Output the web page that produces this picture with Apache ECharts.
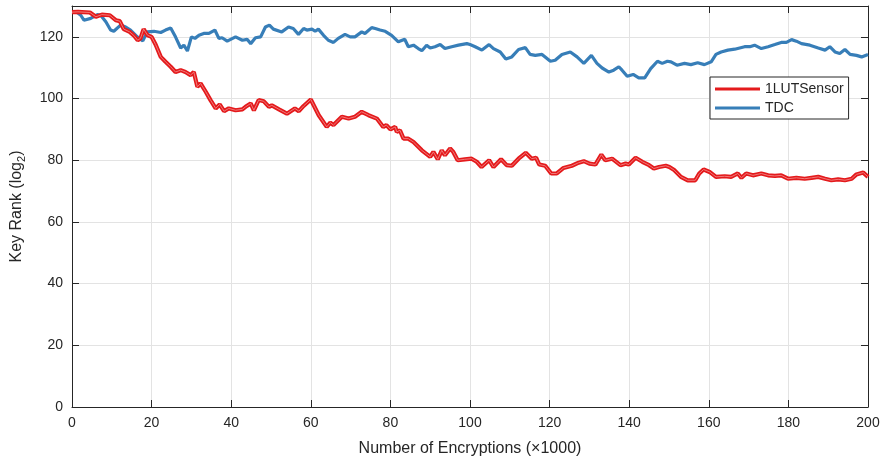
<!DOCTYPE html>
<html>
<head>
<meta charset="utf-8">
<script src="https://cdn.jsdelivr.net/npm/echarts@6/dist/echarts.min.js"></script>
<style>html,body{margin:0;padding:0;background:#fff;}#c{width:883px;height:459px;}</style>
</head>
<body>
<div id="c"></div>
<script>
var seriesNames = ['1LUTSensor', 'TDC'];
var xTicks = [0, 20, 40, 60, 80, 100, 120, 140, 160, 180, 200];
var yTicks = [0, 20, 40, 60, 80, 100, 120];

var redX = [0,1.5,4.5,6,7.5,9.5,11,12,13,14.5,15.5,16.5,17.2,18,19,20,21,22.3,23.5,24.8,26,27.3,28.5,29.8,30.6,31.5,32.3,33.6,34.8,36.1,37.1,38.2,39.4,41.1,42.8,43.6,44.9,45.7,46.9,48.2,49.5,50.2,52,54,56,57,58.2,60,62,64,64.9,65.7,67.8,69.5,71.1,72.8,74.5,76.6,78.2,79,80,81.2,81.6,82.4,83.3,84.5,85.8,87.9,90,90.8,91.9,92.9,93.7,95,95.8,96.9,98.7,100.4,101.7,102.9,104.8,105.9,107.8,109.2,110.5,112.2,114,115.5,116.6,117.4,118.9,120.4,121.8,123.5,125.6,127.3,128.6,130,131.5,133,134,135.7,137.8,139.1,139.9,141.6,143.3,145,146.2,147.5,149.2,150.1,151.3,153,154.7,156.6,157.6,158.7,160.2,161.8,164,165.6,167.3,168.2,169.4,171.1,173.2,174.9,176.6,178.2,179.9,182,184.1,185.8,187.5,189.2,190.8,192.5,194.2,195.9,197.1,198.8,200];
var redY = [128,128.1,127.9,126.5,127.2,127,125.4,125.1,122.5,121.6,120.5,118.9,119.5,122.5,120.5,120,117.5,113.5,111.9,110.3,108.6,109.2,108.6,107.6,108.6,103.8,104.9,102.2,99.5,96.8,98.1,95.9,96.8,96.2,96.5,97.3,98.4,96.2,99.5,99.1,97.3,97.8,96.5,95.1,96.8,95.9,97.6,99.7,94.6,90.8,92.2,91.4,94.1,93.5,94.1,95.7,94.6,93.5,90.8,91.4,90,90.8,89.2,89.7,87,87,85.9,83.2,81.1,82.7,80.3,83.2,81.6,83.8,82.7,80,80.3,80.5,79.5,77.8,80,77.8,80.3,78.4,78.2,80.5,82.4,80.5,80.8,78.6,78.2,75.7,75.7,77.5,78.2,79.2,79.7,78.9,78.6,81.8,80,80.5,78.4,78.9,78.6,80.8,79.5,78.4,77.3,77.8,78.2,77.8,76.8,74.6,73.5,73.5,75.7,77,76.2,74.6,74.8,74.6,75.7,74.3,75.7,75.1,75.7,75.1,74.9,75.1,74,74.3,74,74.3,74.6,74,73.5,73.8,73.5,74,75.4,76,74.6];

var blueX = [0,1.3,2.2,3,4.7,6.4,7.2,8.5,9.7,10.5,12.2,13.5,14.7,16.4,17.8,18.9,20.6,22.3,23.5,24.8,26,27.3,28.1,29,30,30.9,31.9,33.1,34.4,35.9,36.9,37.7,39,41.1,42.8,44,44.9,46.1,47.4,48.6,49.6,50.6,52.7,54.4,55.6,56.9,58.2,59,60.3,61.1,61.9,63.2,64.4,65.7,66.9,68.6,69.9,71.1,72.8,73.6,75.3,76.2,77.4,78.7,80.3,82,83.6,84.5,85.8,87,87.9,89.1,90,91.2,92.5,93.7,95.4,97.1,99.2,100,101.3,103,104.8,105.9,107.6,109,110.5,112.2,113.9,115.1,116.4,118.1,120.2,121.4,123.1,125.2,126.9,128.6,130.5,131.9,133.2,134.9,136.1,137.4,138.2,139.5,141,142.4,143.9,145.4,147.1,148.3,149.6,150.5,152,153.9,155.5,157.2,158.9,160.6,161.8,163.1,164.8,166.5,169,170.3,171.5,173.2,174.9,176.6,178.2,179.5,180.8,182,183.3,185.4,187.5,189.2,190.4,191.7,192.9,194.2,195.5,197.1,198.4,200];
var blueY = [128,127.9,127,125.4,126,127.2,127,124.9,122.2,121.8,123.8,123.2,122.2,120,118.7,121.6,121.8,121.4,122.2,122.9,120,116.4,117.3,115.4,120,119.5,120.5,121.1,121.1,122.2,119.5,119.7,118.6,120,118.9,119.2,117.8,119.7,120,123.2,123.8,122.5,121.6,123.2,122.7,120.8,122.7,122.2,122.5,121.8,122.5,120.5,118.9,118.2,119.5,120.8,120,120,121.6,121.1,123,122.7,122.2,121.8,120.5,118.4,119.2,116.8,117.3,116.2,115.5,117.3,116.4,116.8,117.5,116.2,116.8,117.3,117.8,117.5,116.8,115.7,117.5,116.2,115.1,112.8,113.5,115.9,116.5,114.3,114,114.3,112.1,112.4,114.3,115.1,113.5,111.4,114,111.4,109.9,108.6,109.2,110.3,109.2,107.2,107.8,106.7,106.7,109.7,112.1,111.4,112.1,111.9,110.8,111.4,111,111.6,111,111.9,114.3,115.1,115.7,116,116.8,116.8,117.3,116.2,116.8,117.5,118.2,118.2,119.1,118.6,117.8,117.3,116.4,115.7,116.8,115.1,114.6,115.9,114.3,114,113.5,114.3];

function pairs(xs, ys) { return xs.map(function (x, i) { return [x, ys[i]]; }); }

var txt = '#262626';
var font = 'Liberation Sans, Arial, Helvetica, sans-serif';
var chart = echarts.init(document.getElementById('c'), null, {renderer: 'canvas'});

function xAx(pos, show) {
  return {
    type: 'value', position: pos, min: xTicks[0], max: xTicks[xTicks.length - 1], interval: 20,
    axisLine: {show: true, onZero: false, lineStyle: {color: txt, width: 1}},
    axisTick: {show: true, inside: true, length: 7, lineStyle: {color: txt}},
    axisLabel: {show: show, color: txt, fontSize: 14, fontFamily: font, margin: 9,
      formatter: function (v) { return xTicks.indexOf(v) >= 0 ? String(v) : ''; }},
    splitLine: {show: show, lineStyle: {color: '#e3e3e3', width: 1}}
  };
}
function yAx(pos, show) {
  return {
    type: 'value', position: pos, min: 0, max: 130, interval: 20,
    axisLine: {show: true, onZero: false, lineStyle: {color: txt, width: 1}},
    axisTick: {show: true, inside: true, length: 7, lineStyle: {color: txt}},
    axisLabel: {show: show, color: txt, fontSize: 14, fontFamily: font, margin: 9, showMaxLabel: false,
      formatter: function (v) { return yTicks.indexOf(v) >= 0 ? String(v) : ''; }},
    splitLine: {show: show, lineStyle: {color: '#e3e3e3', width: 1}}
  };
}

var xa = xAx('bottom', true);
xa.name = 'Number of Encryptions (\u00d71000)';
xa.nameLocation = 'middle';
xa.nameGap = 34;
xa.nameTextStyle = {color: txt, fontSize: 16, fontFamily: font};
var xb = xAx('top', false);

var ya = yAx('left', true);
ya.name = '{a|Key Rank (log}{s|2}{a|)}';
ya.nameLocation = 'middle';
ya.nameGap = 45;
ya.nameRotate = 90;
ya.nameTextStyle = {color: txt, fontFamily: font,
  rich: {a: {fontSize: 16, color: txt, fontFamily: font, lineHeight: 20},
         s: {fontSize: 11, color: txt, fontFamily: font, verticalAlign: 'bottom', lineHeight: 14}}};
var yb = yAx('right', false);

chart.setOption({
  animation: false,
  backgroundColor: '#fff',
  grid: {left: 72, right: 15, top: 6, bottom: 52, containLabel: false, outerBoundsMode: 'none'},
  xAxis: [xa, xb],
  yAxis: [ya, yb],
  legend: {
    data: seriesNames, orient: 'vertical', left: 710, top: 77,
    backgroundColor: '#fff', borderColor: txt, borderWidth: 1, borderRadius: 0,
    padding: [5, 5, 4, 5], itemGap: 5, itemWidth: 45, itemHeight: 3, icon: 'rect',
    textStyle: {color: txt, fontSize: 14, fontFamily: font, padding: [0, 0, 0, 0]}
  },
  series: [
    {name: seriesNames[0], type: 'line', xAxisIndex: 0, yAxisIndex: 0, data: pairs(redX, redY),
     showSymbol: false, symbol: 'none', color: '#e41a1c', lineStyle: {color: '#e41a1c', width: 4.2}, z: 3},
    {name: seriesNames[1], type: 'line', xAxisIndex: 0, yAxisIndex: 0, data: pairs(blueX, blueY),
     showSymbol: false, symbol: 'none', color: '#377eb8', lineStyle: {color: '#377eb8', width: 3.2}, z: 2},
    {name: 'redInner', type: 'line', xAxisIndex: 0, yAxisIndex: 0, data: pairs(redX, redY),
     showSymbol: false, symbol: 'none', color: '#f07a7a', lineStyle: {color: '#f07a7a', width: 1}, z: 4, silent: true}
  ]
});
</script>
</body>
</html>
